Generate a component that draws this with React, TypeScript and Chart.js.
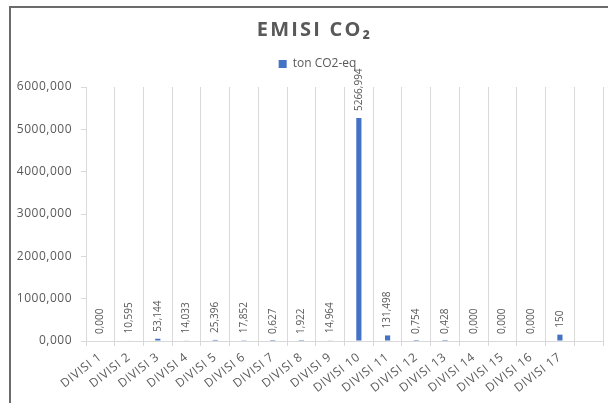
import React, { useEffect, useRef } from "react";
import { Chart, registerables } from "chart.js";

Chart.register(...registerables);

const categories = [
  "DIVISI 1", "DIVISI 2", "DIVISI 3", "DIVISI 4", "DIVISI 5", "DIVISI 6",
  "DIVISI 7", "DIVISI 8", "DIVISI 9", "DIVISI 10", "DIVISI 11", "DIVISI 12",
  "DIVISI 13", "DIVISI 14", "DIVISI 15", "DIVISI 16", "DIVISI 17", "",
];

const emissions = [
  0, 10.595, 53.144, 14.033, 25.396, 17.852, 0.627, 1.922, 14.964,
  5266.994, 131.498, 0.754, 0.428, 0, 0, 0, 150, null,
];

const valueLabels = [
  "0,000", "10,595", "53,144", "14,033", "25,396", "17,852", "0,627", "1,922",
  "14,964", "5266,994", "131,498", "0,754", "0,428", "0,000", "0,000", "0,000",
  "150", "",
];

const yTicks = [0, 1000, 2000, 3000, 4000, 5000, 6000];

const GRAY = "#595959";
const GRID = "#d9d9d9";
const BLUE = "#4472C4";
const FONT = "'Open Sans', 'DejaVu Sans', sans-serif";

const fmt = (v: number) => v.toFixed(3).replace(".", ",");

const dataLabelPlugin = {
  id: "dataLabelPlugin",
  afterDatasetsDraw(chart: any) {
    const ctx = chart.ctx;
    const meta = chart.getDatasetMeta(0);
    ctx.save();
    ctx.fillStyle = GRAY;
    ctx.font = `10px ${FONT}`;
    ctx.textAlign = "left";
    ctx.textBaseline = "middle";
    meta.data.forEach((el: any, i: number) => {
      const text = valueLabels[i];
      if (!text || emissions[i] === null) return;
      ctx.save();
      ctx.translate(el.x, el.y - 7);
      ctx.rotate(-Math.PI / 2);
      ctx.fillText(text, 0, 0);
      ctx.restore();
    });
    ctx.restore();
  },
};

const stylePlugin = {
  id: "stylePlugin",
  beforeLayout(chart: any) {
    const wrap = (obj: any, method: string, spacing: string, dx: number) => {
      if (!obj || obj["__p_" + method]) return;
      const orig = obj[method];
      obj[method] = function (...args: any[]) {
        const ctx = chart.ctx;
        ctx.save();
        ctx.translate(dx, 0);
        ctx.letterSpacing = spacing;
        try {
          return orig.apply(this, args);
        } finally {
          ctx.restore();
        }
      };
      obj["__p_" + method] = true;
    };
    wrap(chart.titleBlock, "draw", "2.2px", 13);
    wrap(chart.legend, "draw", "0px", 16);
    wrap(chart.scales.x, "drawLabels", "0.7px", 0);
    wrap(chart.scales.y, "drawLabels", "0.5px", 0);
    const lg = chart.legend;
    if (lg && !lg.__fitPatched) {
      const f = lg.fit;
      lg.fit = function () {
        f.call(this);
        this.height += 7;
      };
      lg.__fitPatched = true;
    }
  },
};

export default function App() {
  const ref = useRef<HTMLCanvasElement>(null);

  useEffect(() => {
    if (!ref.current) return;
    const chart = new Chart(ref.current, {
      type: "bar",
      data: {
        labels: categories,
        datasets: [
          {
            label: "ton CO2-eq",
            data: emissions as any,
            backgroundColor: BLUE,
            borderWidth: 0,
            barPercentage: 0.18,
            categoryPercentage: 1,
          },
        ],
      },
      options: {
        responsive: false,
        animation: false,
        layout: { padding: { left: 0, right: 5, top: 0, bottom: 0 } },
        plugins: {
          title: {
            display: true,
            text: "EMISI CO₂",
            color: GRAY,
            font: { family: FONT, size: 20, weight: "bold", lineHeight: 1 },
            padding: { top: 20, bottom: 8 },
          },
          legend: {
            display: true,
            labels: {
              color: GRAY,
              font: { family: FONT, size: 12 },
              boxWidth: 8,
              boxHeight: 8,
              padding: 10,
            },
          },
          tooltip: { enabled: false },
        },
        scales: {
          x: {
            offset: true,
            grid: {
              offset: true,
              color: GRID,
              lineWidth: 1,
              drawTicks: true,
              tickLength: 5,
            },
            border: { display: true, color: GRID },
            ticks: {
              color: GRAY,
              font: { family: FONT, size: 12 },
              minRotation: 38,
              maxRotation: 38,
              autoSkip: false,
              padding: 4,
            },
            afterFit: (s: any) => {
              s.height = 62;
            },
          },
          y: {
            min: 0,
            max: 6000,
            afterBuildTicks: (s: any) => {
              s.ticks = yTicks.map((v) => ({ value: v }));
            },
            grid: {
              drawOnChartArea: false,
              drawTicks: true,
              tickLength: 5,
              color: GRID,
            },
            border: { display: false },
            ticks: {
              color: GRAY,
              font: { family: FONT, size: 12 },
              padding: 9,
              callback: (v: any) => fmt(Number(v)),
            },
            afterFit: (s: any) => {
              s.width = 86;
            },
          },
        },
      },
      plugins: [dataLabelPlugin, stylePlugin],
    });
    return () => chart.destroy();
  }, []);

  return (
    <div style={{ position: "absolute", left: 0, top: 0, width: 608, height: 403, background: "#fff", overflow: "hidden" }}>
      <div
        style={{
          position: "absolute",
          left: 9,
          top: 6,
          width: 620,
          height: 420,
          borderLeft: "2px solid #6b6b6b",
          borderTop: "2px solid #6b6b6b",
        }}
      />
      <canvas ref={ref} width={608} height={403} style={{ position: "absolute", left: 0, top: 0 }} />
    </div>
  );
}
